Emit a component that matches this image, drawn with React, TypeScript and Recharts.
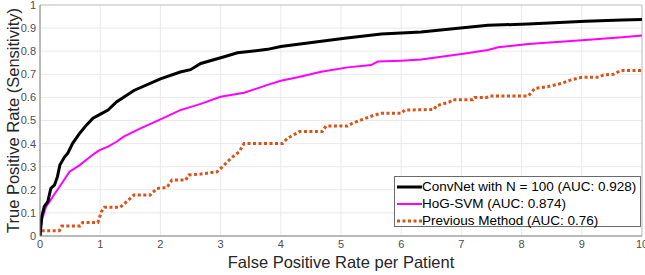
import React from "react";
import {
  LineChart,
  Line,
  XAxis,
  YAxis,
  CartesianGrid,
  ReferenceLine,
  Legend,
} from "recharts";

const FONT = "'Liberation Sans', Arial, Helvetica, sans-serif";

// FPR per patient (x) vs sensitivity (y)
const convX = [0, 0.03, 0.07, 0.13, 0.18, 0.24, 0.29, 0.33, 0.41, 0.46, 0.54, 0.66, 0.77, 0.88, 1.02, 1.13, 1.27, 1.56, 2.0, 2.33, 2.5, 2.67, 3.06, 3.28, 3.78, 4.0, 4.61, 5.06, 5.67, 6.33, 6.78, 7.44, 8.11, 9.06, 9.67, 10];
const convY = [0, 0.084, 0.127, 0.149, 0.206, 0.22, 0.257, 0.307, 0.343, 0.358, 0.4, 0.445, 0.48, 0.51, 0.53, 0.545, 0.58, 0.63, 0.68, 0.71, 0.72, 0.747, 0.776, 0.793, 0.808, 0.82, 0.841, 0.856, 0.874, 0.883, 0.895, 0.912, 0.918, 0.93, 0.935, 0.937];

const hogX = [0, 0.03, 0.1, 0.16, 0.21, 0.29, 0.38, 0.49, 0.66, 0.77, 0.91, 0.99, 1.13, 1.27, 1.39, 1.67, 2.0, 2.33, 2.67, 3.0, 3.39, 3.78, 4.0, 4.28, 4.67, 5.11, 5.5, 5.61, 6.0, 6.33, 7.06, 7.44, 7.61, 8.11, 9.06, 9.67, 10];
const hogY = [0.01, 0.07, 0.127, 0.149, 0.17, 0.2, 0.235, 0.278, 0.307, 0.33, 0.358, 0.372, 0.387, 0.408, 0.43, 0.466, 0.505, 0.545, 0.572, 0.603, 0.62, 0.654, 0.672, 0.687, 0.711, 0.73, 0.74, 0.755, 0.759, 0.764, 0.79, 0.805, 0.817, 0.831, 0.848, 0.86, 0.868];

const prevX = [0, 0.03, 0.32, 0.36, 0.67, 0.71, 0.96, 1.02, 1.07, 1.33, 1.42, 1.56, 1.83, 1.94, 2.11, 2.19, 2.42, 2.47, 2.67, 2.94, 3.03, 3.17, 3.31, 3.39, 4.03, 4.11, 4.31, 4.69, 4.75, 5.11, 5.19, 5.36, 5.56, 5.67, 6.0, 6.06, 6.55, 6.58, 6.8, 6.86, 7.19, 7.22, 7.42, 7.47, 8.11, 8.22, 8.44, 8.67, 8.81, 9.0, 9.28, 9.36, 9.53, 9.64, 10];
const prevY = [0, 0.023, 0.023, 0.043, 0.043, 0.058, 0.058, 0.105, 0.124, 0.124, 0.144, 0.177, 0.177, 0.206, 0.21, 0.242, 0.242, 0.264, 0.268, 0.278, 0.3, 0.336, 0.365, 0.4, 0.4, 0.423, 0.452, 0.452, 0.476, 0.476, 0.488, 0.505, 0.524, 0.531, 0.531, 0.545, 0.548, 0.563, 0.58, 0.59, 0.59, 0.6, 0.6, 0.606, 0.606, 0.639, 0.647, 0.661, 0.675, 0.687, 0.687, 0.697, 0.7, 0.716, 0.716];

const xTicks = [0, 1, 2, 3, 4, 5, 6, 7, 8, 9, 10];
const yTicks = [0, 0.1, 0.2, 0.3, 0.4, 0.5, 0.6, 0.7, 0.8, 0.9, 1];

const seriesNames = [
  "ConvNet with N = 100 (AUC: 0.928)",
  "HoG-SVM (AUC: 0.874)",
  "Previous Method (AUC: 0.76)",
];

const toPoints = (xs: number[], ys: number[]) =>
  xs.map((x, i) => ({ x, y: ys[i] }));

const convData = toPoints(convX, convY);
const hogData = toPoints(hogX, hogY);
const prevData = toPoints(prevX, prevY);

const LEGEND_STYLES = [
  { color: "#000000", width: 3, dash: undefined },
  { color: "#ff00ff", width: 2, dash: undefined },
  { color: "#d95319", width: 3, dash: "3 2.5" },
];

function RocLegend() {
  return (
    <div
      style={{
        width: 247,
        height: 51,
        boxSizing: "border-box",
        border: "1px solid #6b6b6b",
        background: "#fff",
        padding: "1px 0 0 1px",
        fontFamily: FONT,
        fontSize: 13.5,
        color: "#000",
      }}
    >
      {seriesNames.map((name, i) => (
        <div
          key={name}
          style={{ display: "flex", alignItems: "center", height: 17 }}
        >
          <svg width={26} height={6} style={{ display: "block" }}>
            <line
              x1={1}
              x2={26}
              y1={3}
              y2={3}
              stroke={LEGEND_STYLES[i].color}
              strokeWidth={LEGEND_STYLES[i].width}
              strokeDasharray={LEGEND_STYLES[i].dash}
            />
          </svg>
          <span style={{ whiteSpace: "nowrap", lineHeight: "17px" }}>{name}</span>
        </div>
      ))}
    </div>
  );
}

const fmtY = (v: number) => (v === 0 || v === 1 ? String(v) : v.toFixed(1));

export default function App() {
  return (
    <div style={{ position: "absolute", left: 0, top: 0 }}>
      <LineChart
        width={645}
        height={275}
        margin={{ top: 5, right: 3, bottom: 0, left: 0 }}
        style={{ fontFamily: FONT }}
      >
        <CartesianGrid stroke="#e9e9e9" strokeWidth={1} />
        <XAxis
          type="number"
          dataKey="x"
          domain={[0, 10]}
          ticks={xTicks}
          interval={0}
          height={39}
          allowDataOverflow
          tickLine={false}
          tickSize={4}
          tickMargin={0}
          stroke="#808080"
          tick={{ fill: "#4d4d4d", fontSize: 11 }}
          label={{
            content: ({ viewBox }: any) => (
              <text
                x={viewBox.x + viewBox.width / 2}
                y={viewBox.y + 32}
                textAnchor="middle"
                fontSize={16.5}
                fill="#262626"
                fontFamily={FONT}
              >
                False Positive Rate per Patient
              </text>
            ),
          }}
        />
        <YAxis
          type="number"
          dataKey="y"
          domain={[0, 1]}
          ticks={yTicks}
          interval={0}
          width={40}
          allowDataOverflow
          tickLine={false}
          tickSize={4}
          tickMargin={0}
          tickFormatter={fmtY}
          stroke="#808080"
          tick={{ fill: "#4d4d4d", fontSize: 11 }}
          label={{
            content: ({ viewBox }: any) => {
              const cx = 19;
              const cy = viewBox.y + viewBox.height / 2;
              return (
                <text
                  x={cx}
                  y={cy}
                  transform={`rotate(-90, ${cx}, ${cy})`}
                  textAnchor="middle"
                  fontSize={16.5}
                  fill="#262626"
                  fontFamily={FONT}
                >
                  True Positive Rate (Sensitivity)
                </text>
              );
            },
          }}
        />
        <ReferenceLine y={1} stroke="#c4c4c4" />
        <ReferenceLine x={10} stroke="#c4c4c4" />
        <Line
          data={prevData}
          dataKey="y"
          type="linear"
          stroke="#d95319"
          strokeWidth={3}
          strokeDasharray="3 2.5"
          dot={false}
          activeDot={false}
          isAnimationActive={false}
        />
        <Line
          data={hogData}
          dataKey="y"
          type="linear"
          stroke="#ff00ff"
          strokeWidth={2}
          dot={false}
          activeDot={false}
          isAnimationActive={false}
        />
        <Line
          data={convData}
          dataKey="y"
          type="linear"
          stroke="#000000"
          strokeWidth={3}
          dot={false}
          activeDot={false}
          isAnimationActive={false}
        />
        <Legend
          layout="horizontal"
          align="center"
          verticalAlign="middle"
          wrapperStyle={{ left: 394, top: 176, width: 247, height: 51 }}
          content={() => <RocLegend />}
        />
      </LineChart>
    </div>
  );
}
